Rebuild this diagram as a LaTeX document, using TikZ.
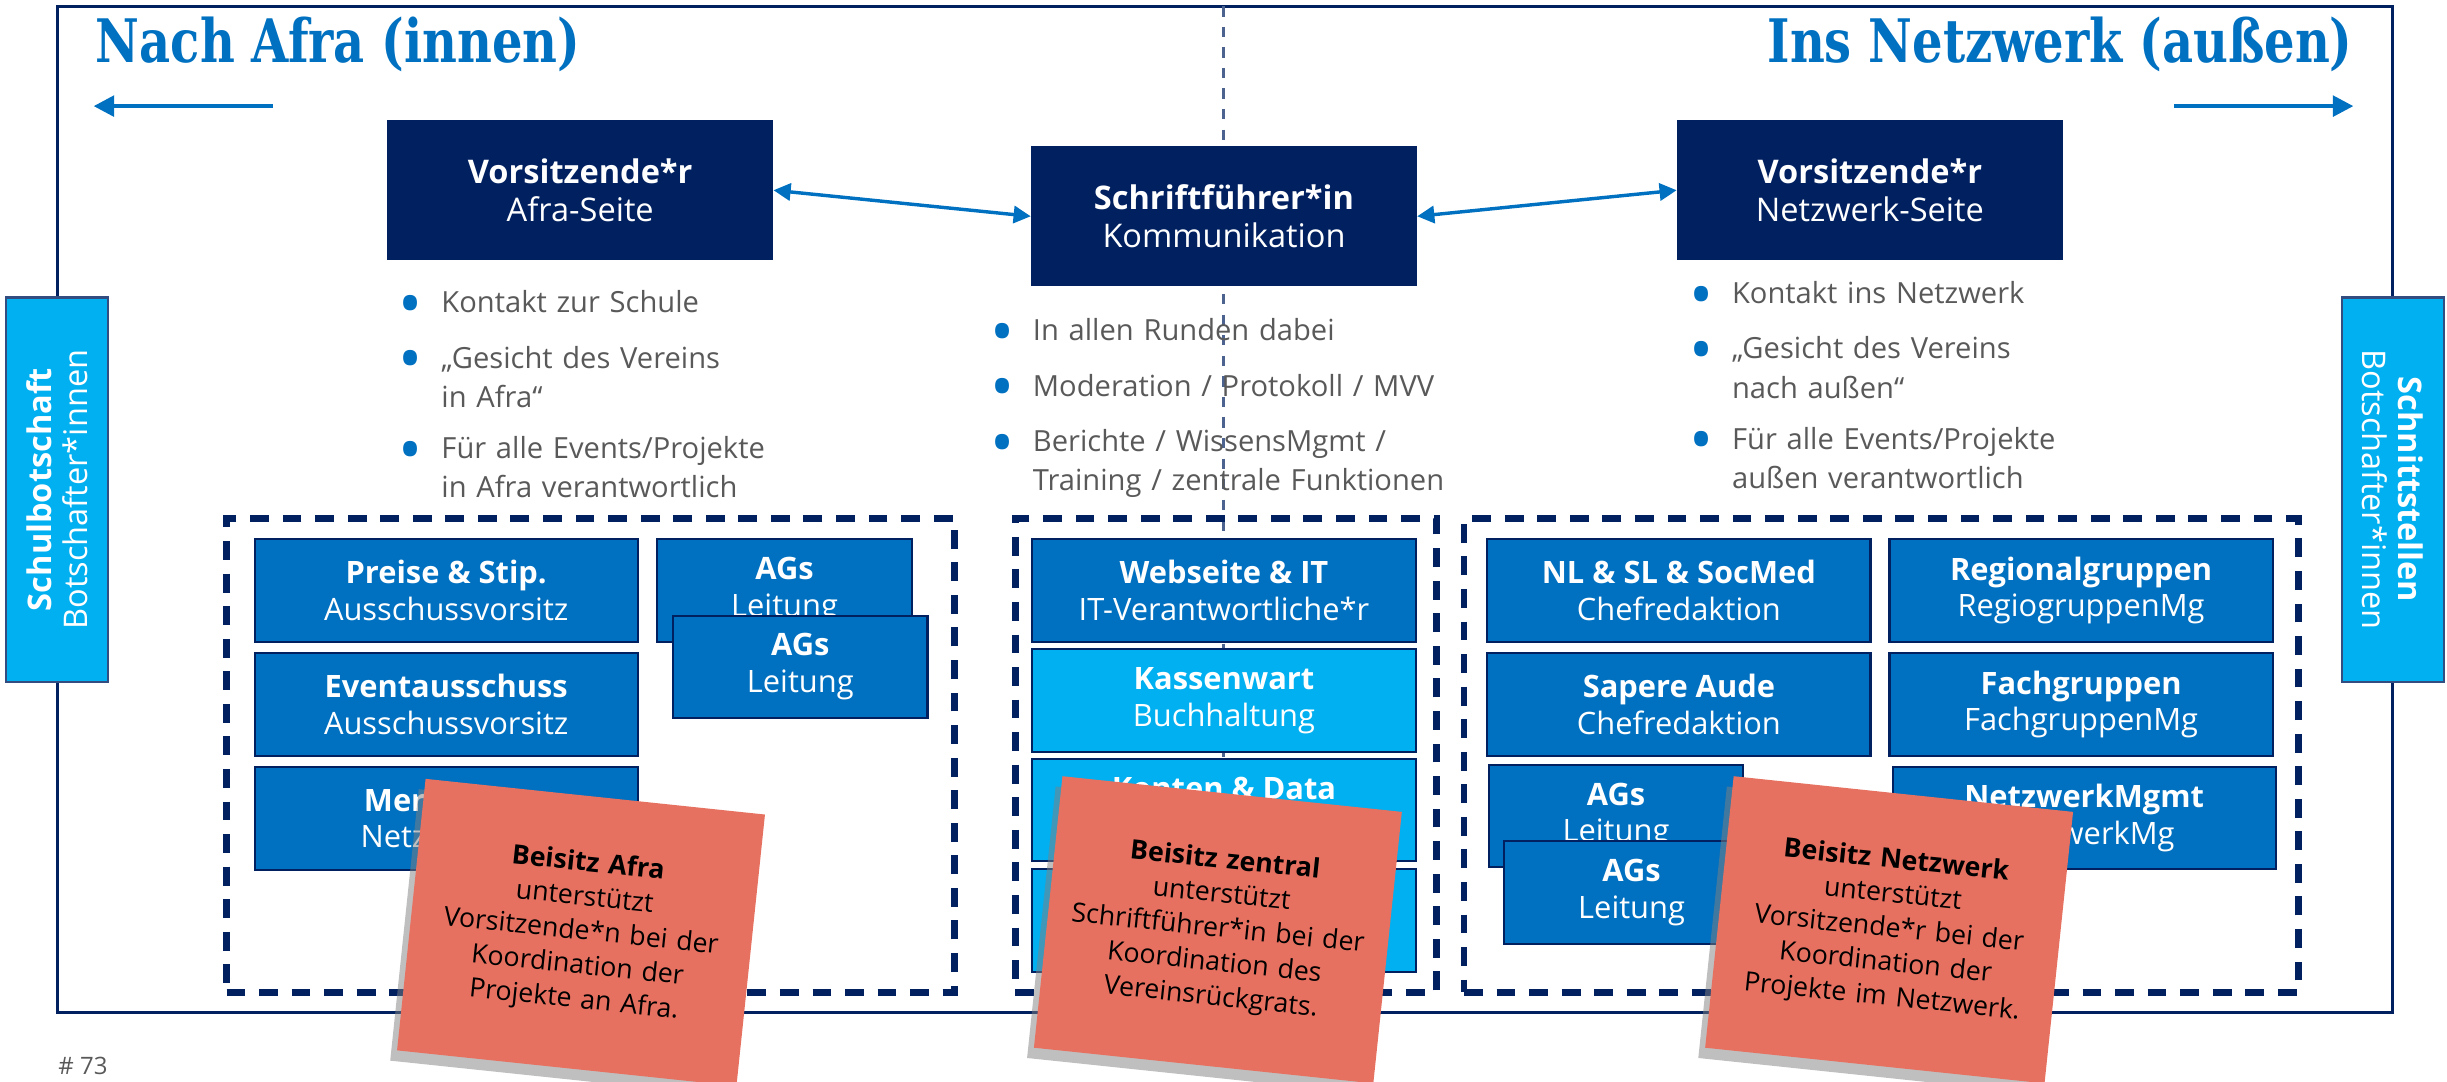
\documentclass[tikz,border=0pt]{standalone}
\usepackage{fontspec}
\setmainfont{Open Sans}
\newfontfamily\headfont{DejaVu Serif}[FakeStretch=0.8]
\usetikzlibrary{arrows.meta,shadows}

\definecolor{navy}{RGB}{0,32,96}
\definecolor{midblue}{RGB}{0,112,192}
\definecolor{lightblue}{RGB}{0,176,240}
\definecolor{notered}{RGB}{231,113,97}
\definecolor{textgray}{RGB}{89,89,89}

\newcommand{\bitem}[1]{\par\hangindent=12.5pt\hangafter=1\noindent\makebox[12.5pt][l]{\textcolor{midblue}{\raisebox{-4pt}{\scalebox{2.2}{\textbullet}}}}#1\par\vspace{4.7pt}}

\begin{document}
\begin{tikzpicture}[x=0.016cm, y=-0.016cm,
    every node/.style={font=\fontsize{9}{10.7}\selectfont},
    rolebox/.style={draw=navy, fill=navy, text=white, align=center, inner sep=0pt,
        minimum width=3.95cm, minimum height=1.42cm, font=\fontsize{9.5}{11.2}\selectfont},
    unitbox/.style={draw=navy, line width=0.6pt, fill=midblue, text=white, align=center, inner sep=0pt,
        minimum width=3.93cm, minimum height=1.05cm},
    agbox/.style={unitbox, minimum width=2.61cm},
    cashbox/.style={unitbox, fill=lightblue},
    groupbox/.style={draw=navy, line width=2pt, dash pattern=on 5.5pt off 4pt, inner sep=0pt, minimum height=4.86cm},
    sidebox/.style={draw=navy!80, line width=0.6pt, fill=lightblue, text=white, align=center, inner sep=0pt,
        minimum width=3.94cm, minimum height=1.05cm, font=\fontsize{9.5}{10.7}\selectfont},
    bullets/.style={anchor=base west, text width=4.8cm, align=left, inner sep=0pt, text=textgray,
        font=\fontsize{8.5}{10.2}\selectfont},
    notebox/.style={fill=notered, text=black, align=center, text width=3.3cm, inner xsep=0.1cm, inner ysep=0pt, rotate=-6,
        minimum width=3.49cm, minimum height=2.8cm, font=\fontsize{7.8}{10}\selectfont,
        drop shadow={shadow xshift=-2pt, shadow yshift=-3pt, opacity=0.5}},
    headline/.style={inner sep=0pt, text=midblue, font=\headfont\bfseries\fontsize{17.5}{20}\selectfont},
    linkarrow/.style={{Triangle[length=5pt,width=5pt]}-{Triangle[length=5pt,width=5pt]}, draw=midblue, line width=1pt},
    leadarrow/.style={-{Triangle[length=6pt,width=6pt]}, draw=midblue, line width=1.2pt}
]
\useasboundingbox (0,0) rectangle (1568,693);

% frame and centre line
\draw[navy, line width=0.8pt] (37,4) rectangle (1533,649);
\coordinate (divtop) at (784,4);
\coordinate (divbot) at (784,649);
\draw[navy!70, dashed, line width=0.6pt] (divtop) -- (divbot);

% headings
\node[headline, anchor=base west] (hinnen) at (61,40) {Nach Afra (innen)};
\node[headline, anchor=base east] (haussen) at (1508,40) {Ins Netzwerk (außen)};
\coordinate (lfrom) at (175,68);
\coordinate (lto) at (60,68);
\coordinate (rfrom) at (1393,68);
\coordinate (rto) at (1508,68);
\draw[leadarrow] (lfrom) -- (lto);
\draw[leadarrow] (rfrom) -- (rto);

% board
\node[rolebox] (vafra) at (371.8,121.9) {\textbf{Vorsitzende*r}\\Afra-Seite};
\node[rolebox] (schrift) at (784.3,138.6) {\textbf{Schriftführer*in}\\Kommunikation};
\node[rolebox] (vnetz) at (1198.2,121.9) {\textbf{Vorsitzende*r}\\Netzwerk-Seite};
\draw[linkarrow] (vafra.east) -- (schrift.west);
\draw[linkarrow] (vnetz.west) -- (schrift.east);

% tasks
\node[bullets] (tafra) at (255,178) {\bitem{Kontakt zur Schule}\bitem{„Gesicht des Vereins\newline in Afra“}\bitem{Für alle Events/Projekte\newline in Afra verantwortlich}};
\node[bullets] (tmitte) at (634,196) {\bitem{In allen Runden dabei}\bitem{Moderation / Protokoll / MVV}\bitem{Berichte / WissensMgmt /\newline Training / zentrale Funktionen}};
\node[bullets] (tnetz) at (1082,172) {\bitem{Kontakt ins Netzwerk}\bitem{„Gesicht des Vereins\newline nach außen“}\bitem{Für alle Events/Projekte\newline außen verantwortlich}};

% groups
\node[groupbox, minimum width=7.47cm] (gafra) at (378.5,484) {};
\node[groupbox, minimum width=4.32cm] (gmitte) at (785.5,484) {};
\node[groupbox, minimum width=8.56cm] (gnetz) at (1205.5,484) {};

% Afra side
\node[unitbox] (preise) at (285.9,378.3) {\textbf{Preise \& Stip.}\\Ausschussvorsitz};
\node[unitbox] (event) at (285.9,451.4) {\textbf{Eventausschuss}\\Ausschussvorsitz};
\node[unitbox] (merch) at (285.9,524.5) {\hbox to 48pt{\textbf{Mer}\hfil}\\\hbox to 50pt{Netz\hfil}};
\node[agbox] (agsa) at (502.7,378.3) {\textbf{AGs}\\Leitung};
\node[agbox] (agsb) at (512.8,427.3) {\textbf{AGs}\\Leitung};

% centre
\node[unitbox, minimum width=3.94cm] (web) at (784.3,378.3) {\textbf{Webseite \& IT}\\IT-Verantwortliche*r};
\node[cashbox, minimum width=3.94cm] (kasse) at (784.3,448.8) {\textbf{Kassenwart}\\Buchhaltung};
\node[cashbox, minimum width=3.94cm] (konten) at (784.3,519.2) {\textbf{Konten \& Data}\\\phantom{Buchhaltung}};
\node[cashbox, minimum width=3.94cm] (mitte4) at (784.3,589.8) {};

% Netzwerk side
\node[unitbox] (nlsl) at (1075.8,378.3) {\textbf{NL \& SL \& SocMed}\\Chefredaktion};
\node[unitbox] (regio) at (1333.5,378.3) {\textbf{Regionalgruppen}\\RegiogruppenMg};
\node[unitbox] (sapere) at (1075.8,451.4) {\textbf{Sapere Aude}\\Chefredaktion};
\node[unitbox] (fach) at (1333.5,451.4) {\textbf{Fachgruppen}\\FachgruppenMg};
\node[agbox] (agsc) at (1035.5,522.9) {\textbf{AGs}\\Leitung};
\node[agbox] (agsd) at (1045.5,572) {\textbf{AGs}\\Leitung};
\node[unitbox] (netzmg) at (1335.5,524.2) {\textbf{NetzwerkMgmt}\\NetzwerkMg};

% Beisitz notes
\node[notebox] (nafra) at (372.3,597.5) {\textbf{Beisitz Afra}\par unterstützt\par Vorsitzende*n bei der\par Koordination der\par Projekte an Afra.};
\node[notebox] (nmitte) at (780.4,595.8) {\textbf{Beisitz zentral}\par unterstützt\par Schriftführer*in bei der\par Koordination des\par Vereinsrückgrats.};
\node[notebox] (nnetz) at (1210.5,595.8) {\textbf{Beisitz Netzwerk}\par unterstützt\par Vorsitzende*r bei der\par Koordination der\par Projekte im Netzwerk.};

% ambassadors
\node[sidebox, rotate=90] (schul) at (36.6,313.7) {\textbf{Schulbotschaft}\\Botschafter*innen};
\node[sidebox, rotate=-90] (schnitt) at (1533.2,313.7) {\textbf{Schnittstellen}\\Botschafter*innen};

\node[anchor=west, inner sep=0pt, text=textgray, font=\fontsize{7}{8}\selectfont] (pnum) at (37,683) {\# 73};
\end{tikzpicture}
\end{document}
